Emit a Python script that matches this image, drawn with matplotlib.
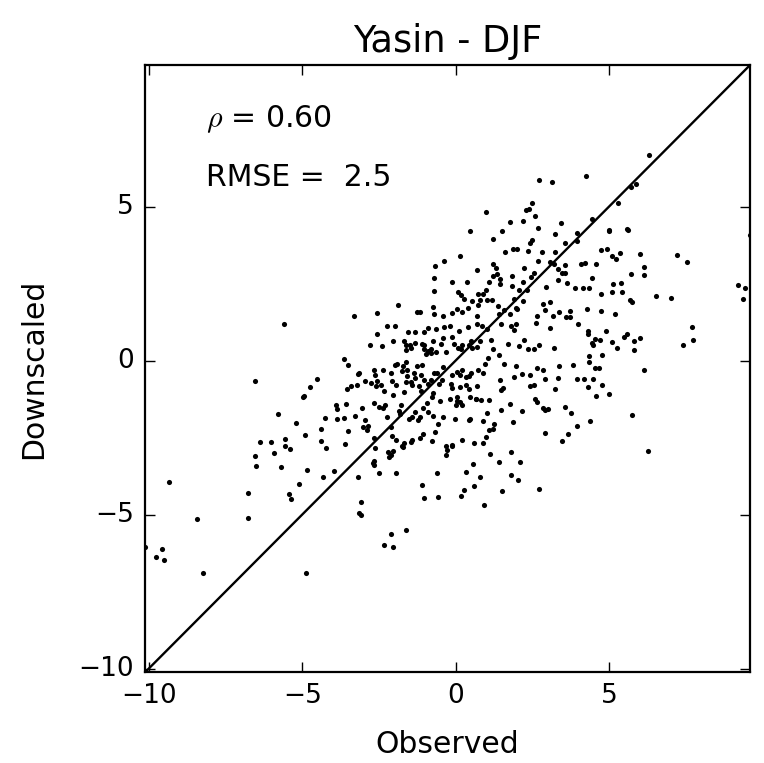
import matplotlib
matplotlib.use('Agg')
import matplotlib.pyplot as plt

# observed vs downscaled values
obs = [6.29, 2.73, 3.15, 4.26, 5.88, 5.71, 5.30, 2.50, 2.38, 2.28, 2.60, 0.99, 2.19, 1.78, 1.52, 0.48,
       4.43, 3.42, 3.95, 4.99, 5.01, 5.59, 5.60, 2.68, 3.23, 9.58, 1.20, 2.50, 2.43, 3.55, 3.95,
       1.88, 1.99, 1.61, 2.37, 2.81, 3.24, 4.75, 4.94, 5.08, 5.35, 6.01, 7.21, 7.54, 0.15, -0.37,
       -0.66, 1.20, 2.69, 3.09, 3.19, 3.55, 4.07, 4.20, 4.56, 5.24, 6.14, 6.15, 2.24, 1.31, 0.71,
       1.21, 1.34, 1.44, 1.84, 2.54, 2.46, 3.32, 3.45, 3.57, 3.32, 4.44, 5.70, -0.71, -0.13, 0.37,
       1.08, 1.45, 1.85, 2.19, 2.93, 3.64, 3.89, 4.14, 4.35, 5.14, 5.38, 9.19, 9.42, -0.72, 0.08,
       0.98, 2.07, 2.34, 4.75, 5.08, 5.43, 0.17, 0.72, 0.90, 6.53, 7.03, 9.37, 0.26, 0.54, 0.80,
       1.03, 1.18, 1.90, 2.21, 3.09, 2.83, 5.68, 5.74, -1.87, -0.75, -1.25, -1.15, 0.05, 0.39,
       0.72, 1.39, 1.58, 1.96, 2.92, 3.37, 3.73, 4.27, 4.72, 5.20, -2.55, -3.31, -5.59, -0.72,
       -0.41, -0.12, 0.19, 0.68, 1.40, 1.78, 1.99, 2.66, 3.17, 3.58, 3.71,
       -2.24, -1.99, -2.55, -1.56, -1.33, -1.03, -0.90, -0.63, -0.39, -0.17, 0.10, 0.40, 0.69,
       0.85, 1.02, 1.47, 1.80, 1.90, 1.96, 2.63, 3.09, 3.98, 4.32, 4.30, 4.89, 5.59, 5.48, 6.01,
       7.70, 7.72, 7.41, 5.82, 5.82, 5.11, 4.53, 4.45, 4.77, -2.78, -2.39, -2.05, -1.69, -1.61,
       -1.44, -1.48, -1.62, -1.33, -1.09, -1.02, -1.04, -0.97, -0.73, -0.79, -0.89, -0.81, -0.64,
       -0.40, -0.49, -0.33, -0.12, -0.05, 0.21, 0.08, 0.17, 0.42, 0.50, 0.54, 0.80, 0.71, 1.16,
       1.20, 1.40, 1.71, 2.07, 2.24, 2.36, 2.55, 2.70, 3.20, 4.35, 4.49, 4.71, 5.26, -3.64, -3.50,
       -1.98, -1.92, -1.63,
       -3.19, -3.15, -3.41, -3.53, -3.23, -2.97, -2.66, -2.63, -2.75, -2.56, -2.45, -2.61, -2.38,
       -2.12, -2.06, -1.94, -2.32, -2.03, -1.76, -1.71, -1.60, -1.60, -1.62, -1.69, -1.42, -1.44,
       -1.33, -1.36, -1.27, -1.11, -1.13, -1.18, -1.12, -1.02, -0.90, -0.81, -0.72, -0.62, -0.75,
       -0.77, -0.54, -0.46, -0.42, -0.13, -0.15, -0.13, 0.05, 0.13, 0.21, 0.32, 0.42, 0.51, 0.13,
       0.32, 0.44, 0.46, 0.71, 0.67, 0.72, 0.89, 1.06, 0.94, 1.56, 1.43, 1.89, 1.96, 2.16, 2.41,
       2.43, 2.54, 2.66, 2.84, 2.91, 3.23, 3.33, 3.37, 3.82, 3.94, 4.18, 4.30, 4.35, 4.53, 4.68,
       4.49, 4.76, 4.56, 4.99, 6.14, 1.47, 1.54, 2.60, 0.04, -4.75, -4.95, -4.99, -4.52, -6.54,
       -3.89, -3.86, -3.86, -3.63, -3.58, -3.28, -3.50, -3.60, -3.05, -2.96, -2.87, -2.88, -3.02,
       -2.65, -2.50, -2.37, -2.30, -2.23, -2.12, -2.06, -1.85, -1.81, -1.78, -1.53, -1.42, -1.31,
       -1.24, -1.16, -1.06, -0.94, -0.91, -1.08, -1.15, -0.75, -0.59, -0.67, -0.40, -0.50, -0.19,
       0.00, 0.04, -0.01, 0.13, 0.21, 0.46, 0.42, 0.66, 0.82, 1.08, 1.03, 0.89, 1.25, 1.20, 1.09,
       1.49, 1.78, 2.16, 2.64, 2.84, 2.91, 3.02, 1.87, 3.57, 3.75, 3.95, 4.38, 5.75, -4.26, -4.38,
       -5.80, -5.21, -4.92, -4.40, -4.23, -6.37, -6.01, -5.92, -5.56, -5.55, -5.39, -2.66, -2.63,
       -1.94, -1.75, -1.69, -1.47, -1.42, -0.77, -0.30, -0.12, 0.19, 0.59, 0.90, 1.00, 2.91, 3.66,
       3.47,
       -6.54, -6.51, -5.68, -5.11, -4.83, -4.31, -3.96, -3.19, -2.65, -2.69, -2.66, -2.50, -2.20,
       -2.17, -2.10, -2.03, -1.93, -1.72, -1.11, -1.02, -0.62, -0.57, -0.28, -0.30, -0.13, 0.18,
       0.28, 0.32, 0.57, 0.60, 0.79, 0.91, 1.11, 1.40, 1.51, 1.81, 1.81, 2.03, 2.10, 2.71, 6.27,
       -6.78, -6.76, -5.43, -5.38, -8.42, -3.09, -3.15, -3.10, -2.12, -2.33, -2.05, -1.61, -4.89,
       -8.25, -10.12, -9.58, -9.76, -9.50, -9.33]
down = [6.66, 5.85, 5.81, 5.99, 5.72, 5.64, 5.10, 5.11, 4.93, 4.90, 4.70, 4.81, 4.54, 4.50, 4.20, 4.20,
        4.60, 4.46, 4.15, 4.25, 4.20, 4.28, 4.23, 4.29, 4.11, 4.06, 3.94, 3.91, 3.83, 3.80, 3.89,
        3.61, 3.61, 3.51, 3.56, 3.52, 3.51, 3.59, 3.62, 3.39, 3.48, 3.46, 3.41, 3.21, 3.38, 3.23,
        3.06, 3.14, 3.23, 3.20, 3.15, 3.10, 3.15, 3.17, 3.15, 3.29, 3.03, 2.78, 3.01, 3.01, 2.94,
        2.75, 2.80, 2.65, 2.76, 2.85, 2.71, 2.97, 2.83, 2.84, 2.62, 2.67, 2.80, 2.69, 2.56, 2.56,
        2.54, 2.47, 2.43, 2.54, 2.40, 2.51, 2.36, 2.35, 2.36, 2.47, 2.51, 2.45, 2.35, 2.27, 2.24,
        2.29, 2.29, 2.30, 2.17, 2.22, 2.24, 2.13, 2.15, 2.15, 2.11, 2.02, 1.99, 1.99, 1.94, 1.98,
        1.98, 1.98, 2.00, 1.94, 1.90, 1.85, 1.98, 1.91, 1.81, 1.75, 1.58, 1.57, 1.66, 1.71,
        1.79, 1.76, 1.64, 1.71, 1.63, 1.58, 1.62, 1.67, 1.61, 1.52, 1.54, 1.44, 1.20, 1.52,
        1.46, 1.53, 1.59, 1.43, 1.52, 1.50, 1.66, 1.45, 1.45, 1.41, 1.40,
        1.11, 1.12, 0.86, 0.93, 0.94, 0.91, 1.04, 1.02, 1.09, 1.11, 0.96, 1.09, 1.17,
        1.11, 1.02, 1.20, 1.13, 0.99, 1.17, 1.22, 1.04, 1.20, 0.96, 0.86, 0.96, 0.85, 0.76, 0.73,
        1.09, 0.66, 0.50, 0.63, 0.35, 0.60, 0.69, 0.57, 0.17, 0.50, 0.46, 0.62, 0.63, 0.33,
        0.40, 0.51, 0.49, 0.58, 0.55, 0.50, 0.39, 0.22, 0.62, 0.36, 0.30, 0.26, 0.28,
        0.73, 0.54, 0.27, 0.76, 0.54, 0.51, 0.40, 0.37, 0.51, 0.64, 0.40, 0.63, 0.44, 0.67,
        0.36, 0.19, 0.53, 0.46, 0.66, 0.36, 0.36, 0.50, 0.40, 0.15, 0.51, 0.68, 0.42, 0.05, -0.13,
        -0.15, -0.12, -0.05,
        -0.44, -0.41, -0.84, -0.93, -0.80, -0.67, -0.32, -0.46, -0.72, -0.67, -0.78, -0.84, -0.32,
        -0.39, -0.67, -0.78, -0.99, -1.11, -0.35, -0.18, -0.31, -0.50, -0.71, -1.02, -0.78, -0.71,
        -0.57, -0.40, -0.18, -0.15, -0.46, -0.82, -0.99, -0.64, -0.76, -0.62, -0.41, -0.40, -1.04,
        -1.18, -0.77, -0.63, -0.22, -0.46, -0.76, -0.89, -0.37, -0.48, -0.30, -0.54, -0.50, -0.42, -0.86,
        -0.80, -0.94, -1.17, -0.84, -1.26, -0.30, -0.42, 0.08, -0.12, -0.12, -0.64, -0.55, -0.19, -0.45, -0.48,
        -0.84, -0.80, -0.24, -0.30, -0.60, -0.94, -0.58, -0.18, -0.15, -0.59, -0.60, -0.87, -0.06, -0.23, -0.23,
        -0.59, -0.78, -1.16, -1.09, -0.30, -0.95, -0.89, -1.25, -1.18, -0.85, -1.16, -1.17, -0.60, -0.67,
        -1.44, -1.59, -1.91, -1.86, -1.41, -1.81, -2.30, -2.72, -1.53, -1.94, -2.13, -2.25, -2.17,
        -1.37, -1.52, -1.55, -1.43, -1.82, -2.16, -2.45, -1.64, -1.75, -1.43, -1.91, -1.85, -1.66,
        -1.94, -1.85, -1.53, -1.39, -1.68, -2.40, -2.53, -1.79, -2.07, -2.31, -1.85, -1.31, -1.25,
        -1.46, -1.30, -1.91, -1.34, -1.45, -1.89, -1.93, -1.25, -1.29, -1.29, -1.70, -1.97, -2.07, -2.21, -2.26,
        -1.61, -1.40, -1.63, -1.34, -1.54, -1.61, -1.58, -2.00, -1.52, -1.70, -2.11, -1.95, -1.77, -1.86, -2.21,
        -1.73, -2.04, -2.43, -2.62, -2.83, -2.65, -2.65, -3.01, -2.56, -2.79, -2.88, -2.52, -2.85,
        -2.58, -2.78, -2.69, -2.63, -2.58, -2.62, -2.78, -2.74, -2.58, -2.67, -2.67, -2.49, -2.34, -2.39,
        -2.60,
        -3.11, -3.41, -3.47, -4.00, -3.55, -3.79, -3.59, -3.79, -3.26, -3.33, -3.39, -3.66, -2.98,
        -3.12, -3.07, -2.94, -3.65, -2.80, -4.03, -4.45, -3.65, -4.42, -2.90, -3.08, -2.79, -4.41,
        -4.19, -3.61, -3.35, -4.07, -3.79, -4.69, -3.05, -3.29, -4.25, -2.98, -3.73, -3.89, -3.29, -4.16, -2.94,
        -4.31, -5.10, -4.33, -4.50, -5.13, -4.60, -4.95, -5.00, -5.63, -6.00, -6.04, -5.51, -6.89,
        -6.90, -6.07, -6.12, -6.37, -6.49, -3.93]

lims = [-10.12, 9.6]
title = 'Yasin - DJF'
rho = 0.60
rmse = 2.5

plt.style.use('classic')
fig = plt.figure(figsize=(7.64, 7.63), dpi=100)
ax = fig.add_axes([0.19, 0.119, 0.792, 0.796])

ax.plot(obs, down, 'o', color='k', ms=3.7, mec='k', mew=0)
ax.plot(lims, lims, color='k', lw=1.7)

ax.set_xlim(lims)
ax.set_ylim(lims)
ax.set_xticks([-10, -5, 0, 5])
ax.set_yticks([-10, -5, 0, 5])
ax.tick_params(labelsize=19, length=7, width=1, pad=8, direction='in', top=True, right=True)
for s in ax.spines.values():
    s.set_linewidth(1.6)

ax.text(-8.15, 7.58, r'$\rho$ = %.2f' % rho, fontsize=21.5)
ax.text(-8.15, 5.68, 'RMSE = %4.1f' % rmse, fontsize=21.5)

ax.set_xlabel('Observed', fontsize=21.5, labelpad=15)
ax.set_ylabel('Downscaled', fontsize=21.5, labelpad=22)
ax.set_title(title, fontsize=26.5, y=1.01)

fig.savefig('out.png', dpi=100, facecolor='white')
